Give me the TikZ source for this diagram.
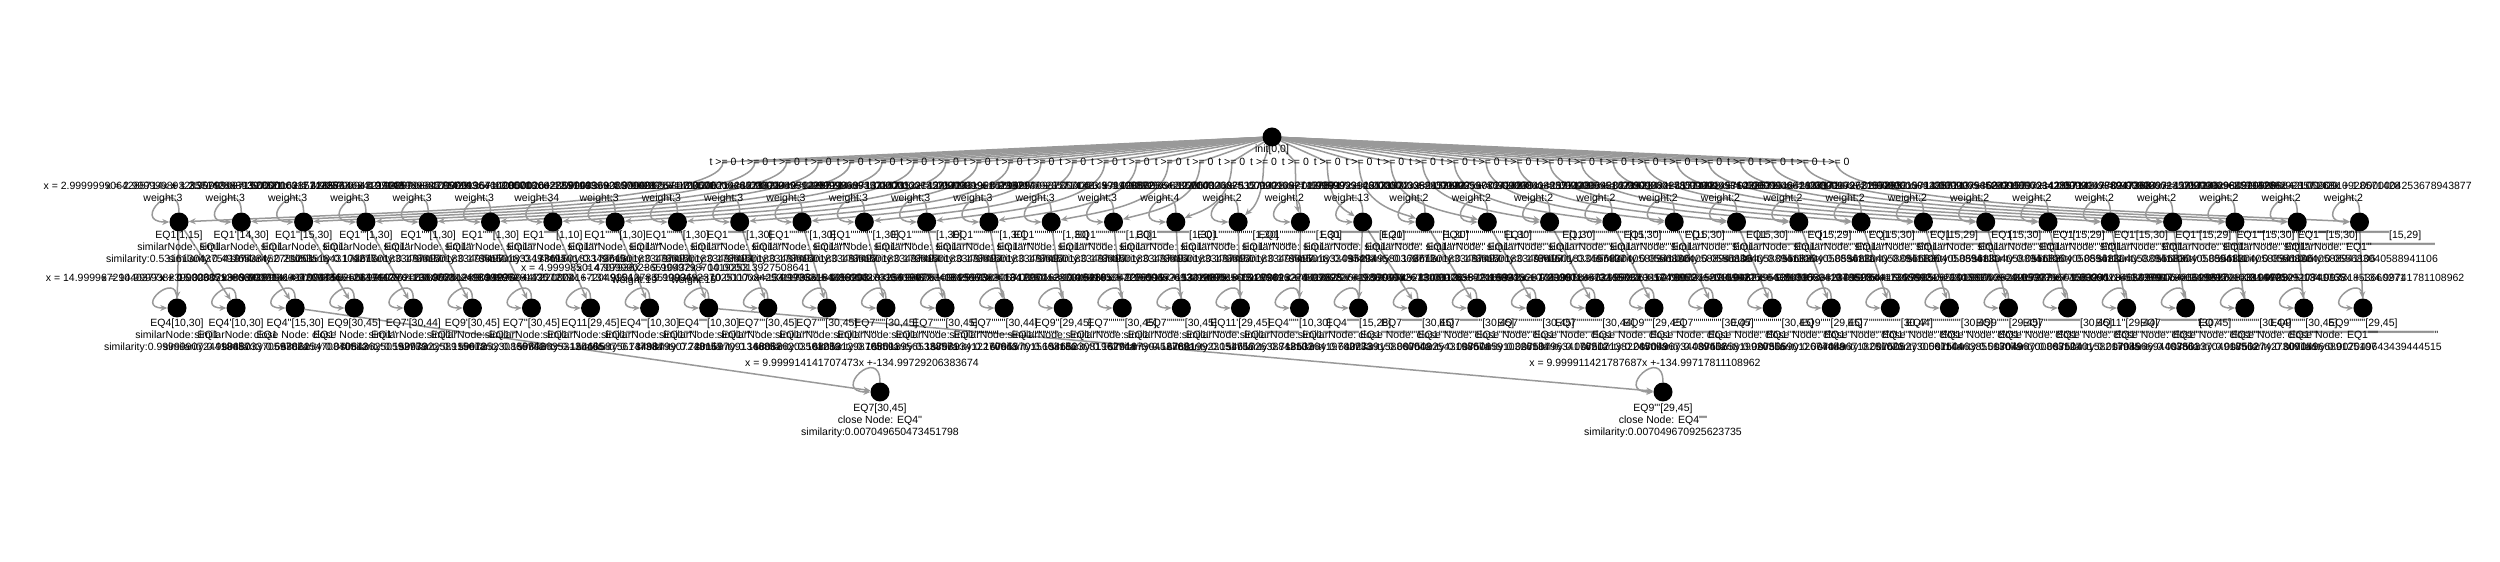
\documentclass[tikz,border=0pt]{standalone}
\usepackage{fontspec}
\newfontfamily\lab{Liberation Sans}
\usepackage{tikz}
\usetikzlibrary{arrows.meta,positioning,calc}
\definecolor{linkgray}{HTML}{999999}
\pgfdeclarelayer{bg}
\pgfsetlayers{bg,main}
\newcommand{\primes}[1]{\ifnum#1>0 '\expandafter\primes\expandafter{\the\numexpr#1-1\relax}\fi}

\begin{document}
\begin{tikzpicture}[x=1pt,y=1pt,every node/.style={font=\lab\fontsize{10.5}{11.8}\selectfont,text=black},state/.style={circle,fill=black,minimum size=19pt,inner sep=0pt},lbl/.style={align=center,inner sep=0pt},link/.style={draw=linkgray,line width=1.5pt,-{Stealth[length=7pt,width=6pt]}}]
\useasboundingbox (0,0) rectangle (2500,562);
\node[state] (root) at (1272,425) {};
\node[lbl] (rootlbl) at (1272,412) {init[0,0]};
\foreach \i/\ilo/\ihi/\w/\sv/\xe in {
0/1/15/3/0.5316130437541974/2.9999999064285714x + 1.3571428839397321,
1/14/30/3/0.4976538452781201/2.9999998932835793x + 1.5000016285714286,
2/15/30/3/0.2105351843104277/2.999999971928571x + 1.4285714924107143,
3/1/30/3/0.17361501833497497/3.0000000171428573x + 0.9999998938571429,
4/1/30/3/0.17361501833497497/2.9999999432142857x + 1.0000013571428571,
5/1/30/3/0.17361501833497497/2.9999998842857143x + 1.000002642857143,
6/1/10/34/0.1736150183349749/2.9999996400000003x + 1.0000036000000001,
7/1/30/3/0.17361501833497497/3.000000027857143x + 0.9999992571428571,
8/1/30/3/0.17361501833497497/2.9999999285714287x + 1.0000021428571428,
9/1/30/3/0.17361501833497497/2.9999999807142857x + 1.0000004071428572,
10/1/30/3/0.17361501833497497/3.0000000464285714x + 0.9999986071428571,
11/1/30/3/0.17361501833497497/2.9999999592857144x + 1.0000012214285714,
12/1/30/3/0.17361501833497497/2.9999998935714285x + 1.0000031928571428,
13/1/30/3/0.17361501833497497/3.0000000735714286x + 0.9999977928571429,
14/1/30/3/0.17361501833497497/2.9999999514285714x + 1.0000014571428572,
15/1/30/3/0.17361501833497497/2.999999987857143x + 1.0000003642857143,
16/1/30/4/0.17361501833497497/3.9999998925x + 1.0000026875,
17/1/30/2/0.17361501833497497/1.9999999639285714x + 1.0000010821428571,
18/1/30/2/0.17361501833497497/2.0000000253571428x + 0.9999992392857143,
19/1/20/13/0.0952349580368772/12.999999771578947x + 1.0000043389473684,
20/1/30/2/0.17361501833497497/1.9999999146428572x + 1.0000025607142857,
21/1/30/2/0.17361501833497497/2.0000000528571427x + 0.9999984142857143,
22/1/30/2/0.17361501833497497/1.9999999785714286x + 1.0000006428571428,
23/15/30/2/0.055683040588941106/2.0000000385714286x + 0.9999988428571428,
24/15/30/2/0.055683040588941106/1.9999999514285714x + 1.0000014571428572,
25/15/30/2/0.055683040588941106/2.0000000178571428x + 0.9999994642857143,
26/15/29/2/0.05568304058894111/1.9999999360526316x + 1.0000017263157895,
27/15/30/2/0.055683040588941106/2.0000000614285714x + 0.9999981571428571,
28/15/29/2/0.05568304058894111/1.9999999721052632x + 1.0000007536842105,
29/15/30/2/0.055683040588941106/2.0000000092857143x + 0.9999997214285714,
30/15/29/2/0.05568304058894111/1.9999999452631579x + 1.0000014778947368,
31/15/30/2/0.055683040588941106/2.0000000342857143x + 0.9999989714285714,
32/15/29/2/0.05568304058894111/1.9999999889473684x + 1.0000002984210526,
33/15/30/2/0.055683040588941106/2.0000000235714286x + 0.9999992928571429,
34/15/30/2/0.055683040588941106/1.9999999635714286x + 1.0000010928571428,
35/15/29/2/0.055683040588941106/1.9999999842105263x + 1.0000004253678943877}{
  \pgfmathsetmacro\xn{179+62.3*\i}
  \pgfmathsetmacro\xt{723+31.8*\i}
  \pgfmathsetmacro\cx{\xn+0.4*(\xt-\xn)}
  \pgfmathtruncatemacro\snp{max(\i-1,0)}
  \node[state] (a\i) at (\xn,340) {};
  \node[lbl,anchor=north] (la\i) at (\xn,331) {EQ1\primes{\i}[\ilo,\ihi]\\similarNode: EQ1\primes{\snp}\\similarity:\sv};
  \node[lbl,anchor=south] (wa\i) at ({\xn-16},358) {x = \xe\\weight:\w};
  \node[lbl] (t\i) at (\xt,400) {t >= 0};
  \begin{pgfonlayer}{bg}
    \draw[link] (root) -- (t\i.center) .. controls (\xt,357) and (\cx,350) .. (a\i);
    \draw[link] (a\i.north) .. controls +(0,38) and +(-40,0) .. (a\i.west);
  \end{pgfonlayer}
}
\foreach \j/\nm/\np/\ilo/\ihi/\kd/\sv/\xe/\pa/\w in {
0/EQ4/0/10/30/similarNode/0.9999990724418457/14.99996729040377x + 0.0003851386693811/0/0,
1/EQ4/1/10/30/similarNode/0.9998803370597024/14.999938239932617x + 0.0007196084219334/0/0,
2/EQ4/2/15/30/close Node/0.6638625470840512/15.000029883841999x +-0.0004465124394428/1/0,
3/EQ9/0/30/45/close Node/0.0708436250592739/9.999914141707475x +-134.99729206383674/2/0,
4/EQ7/1/30/44/similarNode/0.1599732258915618/9.999955260617117x +-134.99851289034226/3/0,
5/EQ9/1/30/45/similarNode/0.1599725230866742/9.999937012384753x +-134.99799447221372/4/0,
6/EQ7/2/30/45/similarNode/0.1598966353126465/10.00001249830186x +-135.00041672049154/5/0,
7/EQ11/0/29/45/similarNode/0.1546958756147384/9.999972814207218x +-134.99912783510936/6/0,
8/EQ4/3/10/30/similarNode/0.7349879907248157/4.999985014707936x + 9.999979870419253/7/19,
9/EQ4/4/10/30/similarNode/0.7201697091346857/4.999990236510432x + 10.000013927508641/8/15,
10/EQ7/3/30/45/similarNode/0.1680886203501239/9.999949237025117x +-134.99836184418203/9/0,
11/EQ7/4/30/45/similarNode/0.1680531298705591/10.000008425311736x +-135.00027036905437/10/0,
12/EQ7/5/30/45/similarNode/0.1680139565338571/9.999962154886104x +-134.99878109825173/11/0,
13/EQ7/6/30/45/similarNode/0.1679893412270643/9.999981032561287x +-134.99938905712264/12/0,
14/EQ7/7/30/44/similarNode/0.1679557015603186/9.999928740815662x +-134.99771237016418/13/0,
15/EQ9/2/29/45/similarNode/0.1546523081962744/9.999958201347731x +-134.99865042276519/14/0,
16/EQ7/8/30/45/similarNode/0.1679187304527691/10.000016390845269x +-135.00052693218876/15/0,
17/EQ7/9/30/45/similarNode/0.1678819923051756/9.999940357716094x +-134.99808560912341/16/0,
18/EQ11/1/29/45/similarNode/0.1546172638842107/9.999967715302488x +-134.99896224507628/17/0,
19/EQ4/5/10/30/similarNode/0.7185336419702733/14.999951805127262x + 0.0005727619381604/18/0,
20/EQ4/6/15/28/similarNode/0.6402739158860042/15.000013274418825x +-0.0001982673105126/19/0,
21/EQ7/10/30/45/close Node/0.0075092543198674/9.999932641857046x +-134.99783592116823/19/0,
22/EQ7/11/30/45/close Node/0.0075085910326184/9.999974528306113x +-134.99918237441065/20/0,
23/EQ7/12/30/45/close Node/0.0075079634176212/10.000005872165942x +-135.00018873245712/21/0,
24/EQ7/13/30/44/close Node/0.0075071382245093/9.999945610723387x +-134.99825316278852/22/0,
25/EQ9/4/29/45/close Node/0.0070496734439452/9.999918466215503x +-134.99737620159421/23/0,
26/EQ7/14/30/45/close Node/0.0075065819920356/9.999962035749815x +-134.99877956304587/24/0,
27/EQ7/15/30/45/close Node/0.0075059012674488/10.000021597810462x +-135.00069410736105/25/0,
28/EQ9/5/29/45/close Node/0.0070496718251023/9.999926804331716x +-134.99764415237905/26/0,
29/EQ7/16/30/44/close Node/0.0075052730561144/9.999953382070528x +-134.99850052913376/27/0,
30/EQ7/17/30/45/close Node/0.0075046385513079/9.999984417365892x +-134.99949904165307/28/0,
31/EQ9/6/29/45/close Node/0.0070496700863127/9.999931528406917x +-134.99779601583241/29/0,
32/EQ7/18/30/45/close Node/0.0075040158217935/10.000003624917283x +-135.00011651238907/30/0,
33/EQ11/2/29/44/close Node/0.0070496694403861/9.999939877063264x +-134.99806481320617/31/0,
34/EQ7/19/30/45/close Node/0.0075033704918562/9.999957346502791x +-134.99862833104725/32/0,
35/EQ7/20/30/44/close Node/0.0075027427309151/9.999947906618235x +-134.99832517740138/33/0,
36/EQ9/7/30/45/close Node/0.0070496689125107/9.999929103814476x +-134.99771853660271/34/0,
37/EQ9/8/29/45/close Node/0.007049643439444515/9.999919920841765x +-134.99741781108962/35/0}{
  \pgfmathsetmacro\xm{177+59.08*\j}
  \node[state] (b\j) at (\xm,254) {};
  \node[lbl,anchor=north] (lb\j) at (\xm,243) {\nm\primes{\np}[\ilo,\ihi]\\\kd: EQ1\primes{\pa}\\similarity:\sv};
  \ifnum\w=0
    \node[lbl] (wb\j) at ({\xm-15},284) {x = \xe};
  \else
    \node[lbl,anchor=south] (wb\j) at ({\xm-15},276) {x = \xe\\weight:\w};
  \fi
  \begin{pgfonlayer}{bg}
    \draw[link] (a\pa) -- (b\j);
    \draw[link] (b\j.north) .. controls +(0,28) and +(-34,0) .. (b\j.west);
  \end{pgfonlayer}
}
\node[state] (c0) at (880,170) {};
\node[lbl,anchor=north] (lc0) at (880,158) {EQ7[30,45]\\close Node: EQ4''\\similarity:0.007049650473451798};
\node[lbl] (wc0) at (862,199) {x = 9.999914141707473x +-134.99729206383674};
\node[state] (c1) at (1663,170) {};
\node[lbl,anchor=north] (lc1) at (1663,158) {EQ9'''[29,45]\\close Node: EQ4''''\\similarity:0.007049670925623735};
\node[lbl] (wc1) at (1645,199) {x = 9.999911421787687x +-134.99717811108962};
\begin{pgfonlayer}{bg}
\draw[link] (b2) -- (c0);
\draw[link] (b9) -- (c1);
\draw[link] (c0.north) .. controls +(0,38) and +(-40,0) .. (c0.west);
\draw[link] (c1.north) .. controls +(0,38) and +(-40,0) .. (c1.west);
\end{pgfonlayer}
\end{tikzpicture}
\end{document}
